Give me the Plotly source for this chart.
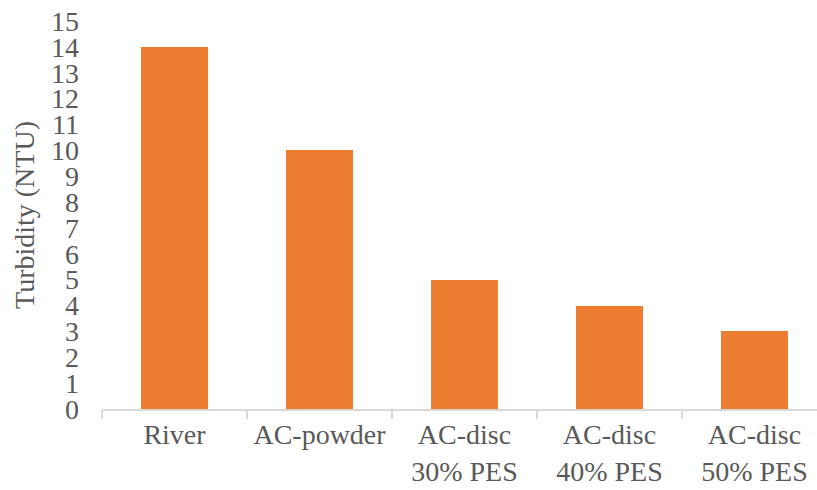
import plotly.graph_objects as go

categories = ["River", "AC-powder", "AC-disc<br>30% PES", "AC-disc<br>40% PES", "AC-disc<br>50% PES"]
turbidity = [14, 10, 5, 4, 3]
y_ticks = list(range(0, 16))

positions = list(range(len(categories)))
boundaries = [p - 0.5 for p in positions] + [positions[-1] + 0.5]

font_family = "Times New Roman"
text_color = "#595959"

fig = go.Figure(
    go.Bar(
        x=positions,
        y=turbidity,
        width=0.46,
        marker=dict(color="#ED7D31", line=dict(width=0)),
    )
)

fig.update_layout(
    width=817,
    height=490,
    margin=dict(l=102, r=0, t=21, b=81),
    plot_bgcolor="white",
    paper_bgcolor="white",
    showlegend=False,
    font=dict(family=font_family, size=28, color=text_color),
    bargap=0,
)

fig.update_xaxes(
    range=[-0.5, 4.431],
    tickvals=positions,
    ticktext=categories,
    ticks="",
    showgrid=False,
    zeroline=False,
    showline=True,
    linecolor="#D9D9D9",
    linewidth=1.5,
    tickfont=dict(family=font_family, size=28, color=text_color),
    minor=dict(
        tickvals=boundaries,
        ticks="outside",
        ticklen=8,
        tickcolor="#D9D9D9",
        tickwidth=1.5,
        showgrid=False,
    ),
)

fig.update_yaxes(
    range=[0, 15],
    tickvals=y_ticks,
    ticks="",
    showgrid=False,
    zeroline=False,
    showline=False,
    tickfont=dict(family=font_family, size=28, color=text_color),
    ticklabelstandoff=22,
    title=dict(text="Turbidity (NTU)", font=dict(family=font_family, size=28, color=text_color), standoff=8),
)

fig.write_html("out.html")
